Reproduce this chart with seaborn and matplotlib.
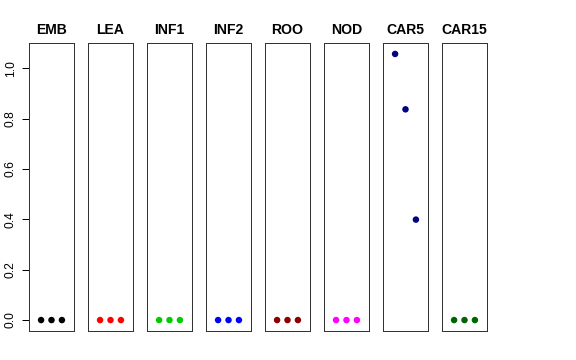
import matplotlib
matplotlib.use("Agg")
import matplotlib.pyplot as plt
import seaborn as sns
import pandas as pd

categories = ["EMB", "LEA", "INF1", "INF2", "ROO", "NOD", "CAR5", "CAR15"]
emb = [0.0, 0.0, 0.0]
lea = [0.0, 0.0, 0.0]
inf1 = [0.0, 0.0, 0.0]
inf2 = [0.0, 0.0, 0.0]
roo = [0.0, 0.0, 0.0]
nod = [0.0, 0.0, 0.0]
car5 = [1.057, 0.837, 0.399]
car15 = [0.0, 0.0, 0.0]
values = [emb, lea, inf1, inf2, roo, nod, car5, car15]
colors = ["#000000", "#FF0000", "#00CD00", "#0000FF", "#8B0000", "#FF00FF", "#000080", "#006400"]
yticks = [0.0, 0.2, 0.4, 0.6, 0.8, 1.0]
ytick_labels = ["0.0", "0.2", "0.4", "0.6", "0.8", "1.0"]

sns.set_theme(style="white")
plt.rcParams["font.family"] = ["Liberation Sans", "DejaVu Sans"]
plt.rcParams["text.color"] = "black"
plt.rcParams["axes.labelcolor"] = "black"
plt.rcParams["xtick.color"] = "black"
plt.rcParams["ytick.color"] = "black"

W, H = 576, 360
fig = plt.figure(figsize=(W / 72, H / 72), dpi=72)
ymax = max(max(v) for v in values)
ylo, yhi = 0 - 0.04 * ymax, ymax + 0.04 * ymax

for i, (cat, vals, col) in enumerate(zip(categories, values, colors)):
    left = 29 + 59 * i
    ax = fig.add_axes([left / W, (360 - 330.7) / H, 45 / W, 287.4 / H])
    df = pd.DataFrame({"x": list(range(1, len(vals) + 1)), "y": vals})
    sns.scatterplot(data=df, x="x", y="y", ax=ax, color=col, s=42, edgecolor="none", linewidth=0)
    ax.set_xlim(-0.16, 4.16)
    ax.set_ylim(ylo, yhi)
    ax.set_xticks([])
    ax.set_xlabel("")
    ax.set_ylabel("")
    ax.set_title(cat, fontsize=14, fontweight="bold", pad=9, color="black")
    for sp in ax.spines.values():
        sp.set_color("#333333")
        sp.set_linewidth(1.0)
        sp.set_visible(True)
    if i == 0:
        ax.set_yticks(yticks)
        ax.set_yticklabels(ytick_labels, rotation=90, va="center", fontsize=12, color="black")
        ax.tick_params(axis="y", direction="out", length=7, width=1, color="black", pad=5, left=True)
    else:
        ax.set_yticks([])

fig.savefig("out.png", dpi=72)
